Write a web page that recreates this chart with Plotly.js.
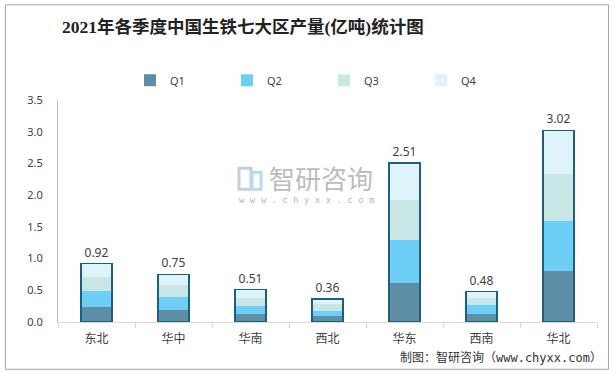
<!DOCTYPE html>
<html><head><meta charset="utf-8">
<script src="https://cdn.plot.ly/plotly-3.0.1.min.js"></script>
<style>html,body{margin:0;padding:0;background:#fff}#chart{width:614px;height:372px}</style>
</head><body><div id="chart"></div>
<script>
const regions = ["东北","华中","华南","西北","华东","西南","华北"];
const q1 = [0.23,0.19,0.12,0.09,0.62,0.12,0.81];
const q2 = [0.26,0.21,0.13,0.09,0.68,0.15,0.78];
const q3 = [0.22,0.18,0.13,0.10,0.62,0.11,0.74];
const q4 = [0.21,0.17,0.13,0.08,0.59,0.10,0.69];
const totals = [0.92,0.75,0.51,0.36,2.51,0.48,3.02];
const seriesNames = ["Q1","Q2","Q3","Q4"];
const colors = ["#5e8fa7","#6dcff6","#c8e6e3","#dff3fb"];

const seriesVals = [q1,q2,q3,q4];
const traces = seriesVals.map((v,i)=>({
  type:'bar', name:seriesNames[i], x:regions, y:v,
  marker:{color:colors[i], line:{width:0}},
  hoverinfo:'skip', xaxis:'x', yaxis:'y'
}));
traces.push({
  type:'bar', x:regions, y:totals, xaxis:'x2', yaxis:'y', showlegend:false,
  marker:{color:'rgba(0,0,0,0)', line:{color:'#1d5f80', width:1.5}},
  text:totals.map(v=>v.toFixed(2)), textposition:'outside', cliponaxis:false,
  textfont:{family:'Noto Sans, Liberation Sans, sans-serif', size:12, color:'#404040'},
  hoverinfo:'skip'
});

const PX = x => (x-58)/539;
const PY = y => (321.7-y)/222;

const layout = {
  width:614, height:372,
  margin:{l:58, r:17, t:100, b:50},
  paper_bgcolor:'#fff', plot_bgcolor:'#fff',
  barmode:'stack', bargap:0.6,
  showlegend:true,
  title:{text:'2021年各季度中国生铁七大区产量(亿吨)统计图',
    font:{family:'Liberation Serif, Noto Sans CJK SC, serif', size:17.5, color:'#222', weight:'bold'},
    xref:'container', x:62/614, xanchor:'left', yref:'container', y:1-27/372, yanchor:'middle'},
  legend:{orientation:'h', x:PX(130), xanchor:'left', y:PY(80), yanchor:'middle',
    entrywidth:52, entrywidthmode:'pixels', traceorder:'normal', itemwidth:30,
    font:{family:'Noto Sans, Liberation Sans, sans-serif', size:11, color:'#404040'}},
  xaxis:{type:'category', range:[-0.5,6.5], showline:true, linecolor:'#d9d9d9', linewidth:1,
    ticks:'outside', tickson:'boundaries', ticklen:5, tickcolor:'#d9d9d9', showgrid:false,
    ticklabelstandoff:6,
    tickfont:{family:'Noto Sans CJK SC, sans-serif', size:12, color:'#404040'}, fixedrange:true},
  xaxis2:{type:'category', range:[-0.5,6.5], overlaying:'x', visible:false, matches:'x'},
  yaxis:{range:[0,3.5], dtick:0.5, tickformat:'.1f', showline:true, linecolor:'#bfbfbf', linewidth:1,
    showgrid:false, zeroline:false, ticks:'', ticklabelstandoff:12,
    tickfont:{family:'Noto Sans, Liberation Sans, sans-serif', size:11, color:'#404040'}},
  annotations:[
    {text:'智研咨询', xref:'paper', yref:'paper', x:PX(267), y:PY(177), xanchor:'left', yanchor:'middle',
     showarrow:false, font:{family:'Noto Sans CJK SC', size:26, color:'#bcbcbc'}},
    {text:'w w w . c h y x x . c o m', xref:'paper', yref:'paper', x:PX(237), y:PY(199.5), xanchor:'left', yanchor:'middle',
     showarrow:false, font:{family:'DejaVu Sans Mono, monospace', size:9, color:'#b8b8b8'}},
    {text:'制图：智研咨询（www.chyxx.com）', xref:'paper', yref:'paper', x:PX(604), y:PY(357),
     xanchor:'right', yanchor:'middle', showarrow:false,
     font:{family:'DejaVu Sans Mono, Noto Sans CJK SC', size:12, color:'#333'}}
  ],
  shapes:[
    {type:'rect', xref:'paper', yref:'paper', x0:PX(5.5), x1:PX(608.5),
     y0:PY(369), y1:PY(4.5), line:{color:'#a6a6a6', width:1}, layer:'below'},
    {type:'rect', xref:'paper', yref:'paper', x0:PX(239), x1:PX(251),
     y0:PY(189), y1:PY(168), line:{color:'#c5cde0', width:3}, fillcolor:'rgba(0,0,0,0)'},
    {type:'rect', xref:'paper', yref:'paper', x0:PX(252), x1:PX(261),
     y0:PY(189), y1:PY(172), line:{color:'#b7dcef', width:3}, fillcolor:'rgba(0,0,0,0)'}
  ]
};
Plotly.newPlot('chart', traces, layout, {displayModeBar:false, staticPlot:true});
</script></body></html>
